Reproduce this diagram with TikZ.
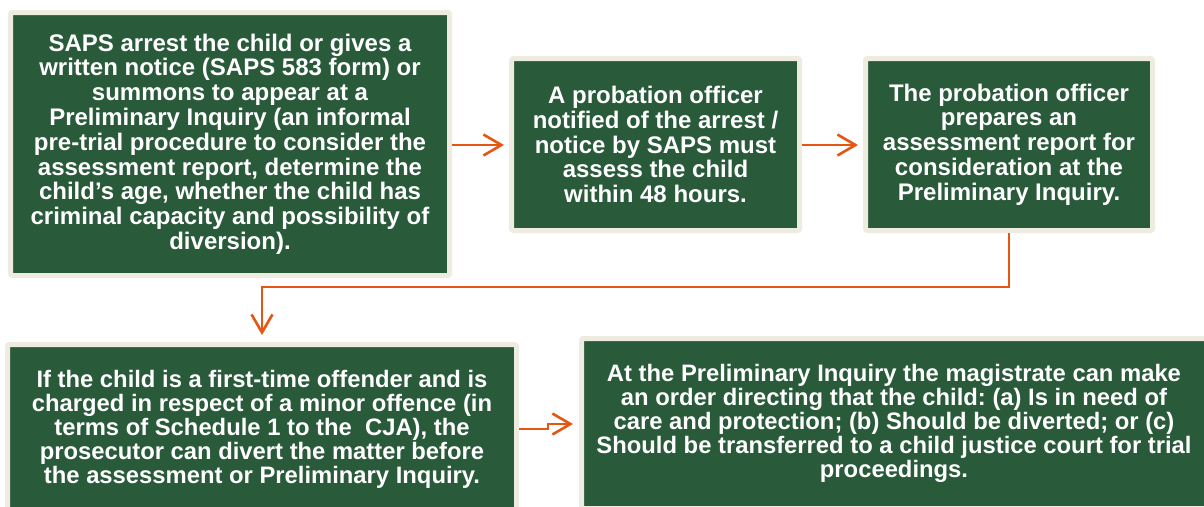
\documentclass[tikz,border=0pt]{standalone}
\usepackage{fontspec}
\setmainfont{Liberation Sans}
\usetikzlibrary{arrows.meta}
\definecolor{boxgreen}{RGB}{41,90,58}
\definecolor{boxrim}{RGB}{238,235,224}
\definecolor{flow}{RGB}{230,86,18}
\frenchspacing
\tikzset{
  stepbox/.style={draw=boxrim, line width=5pt, fill=boxgreen, rounded corners=2pt,
    text=white, align=center, inner sep=0pt, font=\bfseries\frenchspacing\fontsize{24}{24.8}\selectfont},
  flowline/.style={draw=flow, line width=2.6pt,
    -{Straight Barb[length=18pt,width=21pt,line width=2.6pt]}}
}
\begin{document}
\begin{tikzpicture}[x=1pt,y=-1pt]
\useasboundingbox (0,0) rectangle (1204,506);
\clip (0,0) rectangle (1204,506);
\node[stepbox, minimum width=439pt, minimum height=263pt] (b1) at (230,144)
  {SAPS arrest the child or gives a\\written notice (SAPS 583 form) or\\summons to appear at a\\Preliminary Inquiry (an informal\\pre-trial procedure to consider the\\assessment report, determine the\\child’s age, whether the child has\\criminal capacity and possibility of\\diversion).};
\node[stepbox, minimum width=288pt, minimum height=172pt] (b2) at (655.5,144.5)
  {A probation officer\\notified of the arrest /\\notice by SAPS must\\assess the child\\within 48 hours.};
\node[stepbox, minimum width=287pt, minimum height=172pt] (b3) at (1009,144.5)
  {The probation officer\\prepares an\\assessment report for\\consideration at the\\Preliminary Inquiry.};
\node[stepbox, minimum width=509pt, minimum height=169pt, font=\bfseries\frenchspacing\fontsize{23.8}{24}\selectfont] (b4) at (262,429)
  {If the child is a first-time offender and is\\charged in respect of a minor offence (in\\terms of Schedule 1 to the\ \ CJA), the\\prosecutor can divert the matter before\\the assessment or Preliminary Inquiry.};
\node[stepbox, minimum width=625pt, minimum height=170pt, font=\bfseries\frenchspacing\fontsize{23.8}{24}\selectfont] (b5) at (894,423.5)
  {At the Preliminary Inquiry the magistrate can make\\an order directing that the child: (a) Is in need of\\care and protection; (b) Should be diverted; or (c)\\Should be transferred to a child justice court for trial\\proceedings.};
% connectors
\coordinate (t2) at (504,145);
\draw[flowline] (b1.east |- t2) -- (t2);
\coordinate (t3) at (858,145);
\draw[flowline] (b2.east |- t3) -- (t3);
\coordinate (c1) at (1009,287);
\coordinate (c2) at (262,287);
\coordinate (t4) at (262,335);
\draw[flowline] (b3.south) -- (c1) -- (c2) -- (t4);
\coordinate (s1) at (548,429);
\coordinate (s2) at (548,424);
\coordinate (t5) at (573,424);
\draw[flowline] (b4.east |- s1) -- (s1) -- (s2) -- (t5);
\end{tikzpicture}
\end{document}
